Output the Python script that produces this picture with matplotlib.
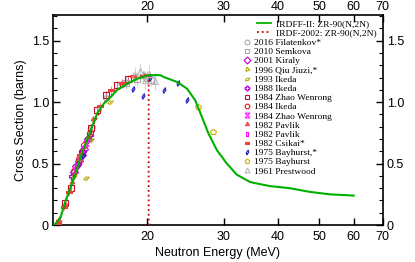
import numpy as np
import matplotlib
matplotlib.use("Agg")
import matplotlib.pyplot as plt
from matplotlib.ticker import FixedLocator, FixedFormatter, MultipleLocator, NullLocator
from matplotlib.lines import Line2D

#------------------------------------------------------------------------------
# Data
#------------------------------------------------------------------------------

# IRDFF-II evaluated curve (MeV, barns)
e_irdff = [12.1, 12.27, 12.6, 12.94, 13.29, 13.64, 14.01, 14.39, 14.77, 15.31,
           15.86, 16.43, 17.02, 17.95, 18.93, 20.13, 21.42, 21.8, 23.41, 24.69,
           25.79, 26.73, 27.68, 28.95, 30.53, 32.19, 34.55, 36.43, 38.42, 42.71,
           47.49, 52.81, 60.0]
xs_irdff = [0.0, 0.01, 0.067, 0.2, 0.31, 0.42, 0.555, 0.664, 0.77, 0.91,
            0.99, 1.04, 1.10, 1.15, 1.19, 1.22, 1.22, 1.205, 1.165, 1.11,
            1.016, 0.88, 0.745, 0.61, 0.50, 0.41, 0.35, 0.333, 0.317, 0.30,
            0.27, 0.25, 0.24]

# IRDF-2002 curve (ends at 20 MeV)
e_irdf = [12.1, 12.6, 13.29, 14.01, 14.77, 15.86, 17.02, 18.93, 20.13, 20.13]
xs_irdf = [0.0, 0.067, 0.31, 0.555, 0.77, 0.99, 1.10, 1.19, 1.22, 0.0]

# experimental data sets: label, energies, cross sections, errors
exfor = [
    ("2016 Filatenkov*", [13.4, 13.7, 14.1, 14.5, 14.9, 16.0, 17.5, 19.6],
     [0.39, 0.47, 0.58, 0.70, 0.80, 1.03, 1.15, 1.21], 0.04),
    ("2010 Semkova", [17.8, 18.9, 19.9, 20.4],
     [1.16, 1.19, 1.20, 1.18], 0.05),
    ("2001 Kiraly", [13.5, 13.7, 13.9, 14.1, 14.3, 14.6],
     [0.43, 0.48, 0.52, 0.57, 0.62, 0.70], 0.02),
    ("1996 Qiu Jiuzi,*", [13.5, 13.9, 14.6],
     [0.41, 0.52, 0.72], 0.02),
    ("1993 Ikeda", [14.4, 14.8, 16.4],
     [0.38, 0.69, 1.00], 0.02),
    ("1988 Ikeda", [13.4, 13.8, 14.2, 14.7],
     [0.40, 0.50, 0.60, 0.73], 0.02),
    ("1984 Zhao Wenrong", [12.9, 13.3, 14.1, 14.8, 15.3, 16.0, 17.0, 18.0],
     [0.18, 0.30, 0.59, 0.79, 0.94, 1.06, 1.14, 1.19], 0.03),
    ("1984 Ikeda", [13.5, 13.9, 14.3, 14.7],
     [0.44, 0.54, 0.65, 0.75], 0.02),
    ("1984 Zhao Wenrong", [13.6, 14.0, 14.4],
     [0.45, 0.55, 0.67], 0.02),
    ("1982 Pavlik", [12.5, 12.9, 13.4, 14.0, 15.0],
     [0.04, 0.17, 0.35, 0.57, 0.86], 0.02),
    ("1982 Pavlik", [13.7, 14.2, 14.6],
     [0.48, 0.62, 0.71], 0.02),
    ("1982 Csikai*", [12.4, 12.8, 13.2, 14.0, 15.5, 16.5, 17.5, 18.5, 19.5],
     [0.02, 0.15, 0.27, 0.57, 0.97, 1.10, 1.16, 1.21, 1.22], 0.03),
    ("1975 Bayhurst,*", [14.2, 18.5, 19.5, 20.3, 21.9, 23.5, 24.7],
     [0.56, 1.11, 1.05, 1.20, 1.10, 1.16, 1.02], 0.01),
    ("1975 Bayhurst", [26.2, 28.3],
     [0.957, 0.76], 0.0),
    ("1961 Prestwood", [18.7, 19.2, 19.7, 20.2, 20.8],
     [1.22, 1.25, 1.18, 1.23, 1.17], 0.07),
]

# marker styles per data set
para = [(-1, -0.5), (0.2, -0.5), (1, 0.5), (-0.2, 0.5), (-1, -0.5)]
bowtie = [(-1, 1), (1, 1), (-1, -1), (1, -1), (-1, 1)]
tallrect = [(-0.4, -1), (0.4, -1), (0.4, 1), (-0.4, 1), (-0.4, -1)]
flatrect = [(-1, -0.35), (1, -0.35), (1, 0.35), (-1, 0.35), (-1, -0.35)]
slimdiam = [(-0.3, -1), (0.5, 0.1), (0.3, 1), (-0.5, -0.1), (-0.3, -1)]
estilos = [
    ("o", "#a8a8a8", False),
    ("s", "#a8a8a8", False),
    ("D", "#c000c0", False),
    ((3, 0, 15), "#b0a800", False),
    (para, "#b8b020", False),
    ("P", "#b000d0", False),
    ("s", "#c01030", False),
    ("8", "#d82020", False),
    (bowtie, "#ff20ff", False),
    ((3, 0, 0), "#f05050", True),
    (tallrect, "#ff00ff", False),
    (flatrect, "#f04040", True),
    (slimdiam, "#2020c0", False),
    ("p", "#c8b400", False),
    ("^", "#b8b8b8", False),
]

#------------------------------------------------------------------------------
# Plot
#------------------------------------------------------------------------------

plt.rcParams['font.family'] = ['Liberation Sans', 'DejaVu Sans']
fig = plt.figure(figsize=(4.15, 2.62), dpi=100)
ax = fig.add_axes([0.128, 0.141, 0.794, 0.802])

for (label, e, xs, err), (mk, col, filled) in zip(exfor, estilos):
    ax.errorbar(e, xs, yerr=err if err > 0 else None, fmt='none',
                ecolor=col, elinewidth=0.8, alpha=0.6, zorder=2)
    ax.plot(e, xs, linestyle='none', marker=mk, markersize=4,
            markeredgecolor=col, markeredgewidth=0.8,
            markerfacecolor=col if filled else 'none', zorder=3)

ax.plot(e_irdf, xs_irdf, color='#d00000', linestyle=':', linewidth=1.3, zorder=4)
ax.plot(e_irdff, xs_irdff, color='#00b000', linewidth=1.5, zorder=5)

ax.set_xscale('log')
ax.set_xlim(12.1, 70)
ax.set_ylim(0, 1.71)

xt = [20, 30, 40, 50, 60, 70]
ax.xaxis.set_major_locator(FixedLocator(xt))
ax.xaxis.set_major_formatter(FixedFormatter([str(v) for v in xt]))
ax.xaxis.set_minor_locator(NullLocator())
ax.yaxis.set_major_locator(FixedLocator([0, 0.5, 1.0, 1.5]))
ax.yaxis.set_major_formatter(FixedFormatter(['0', '0.5', '1.0', '1.5']))
ax.yaxis.set_minor_locator(MultipleLocator(0.1))

ax.tick_params(which='both', direction='in', top=True, right=True,
               labeltop=False, labelright=True, labelsize=9)
ax.tick_params(axis='x', pad=4)
ax.tick_params(axis='y', pad=3)
ax.tick_params(which='major', length=5, width=1)
ax.tick_params(which='minor', length=3, width=0.8)
for s in ax.spines.values():
    s.set_linewidth(1.2)

# etiquetas del eje superior
sec = ax.secondary_xaxis('top')
sec.xaxis.set_major_locator(FixedLocator(xt))
sec.xaxis.set_major_formatter(FixedFormatter([str(v) for v in xt]))
sec.xaxis.set_minor_locator(NullLocator())
sec.tick_params(length=0, pad=1.5, labelsize=9)
sec.spines['top'].set_visible(False)

ax.set_xlabel('Neutron Energy (MeV)', fontsize=9, labelpad=3)
ax.set_ylabel('Cross Section (barns)', fontsize=9, labelpad=3)

# leyenda de curvas
h_lin = [Line2D([], [], color='#00b000', linewidth=1.3),
         Line2D([], [], color='#d00000', linestyle=':', linewidth=1.3)]
leg1 = fig.legend(h_lin, ['IRDFF-II: ZR-90(N,2N)', 'IRDF-2002: ZR-90(N,2N)'],
                  loc='upper left', bbox_to_anchor=(0.619, 0.926), frameon=False,
                  prop={'family': 'Liberation Serif', 'size': 6.8},
                  handlelength=1.5, handletextpad=0.55, labelspacing=0.06,
                  borderpad=0, borderaxespad=0)

# leyenda de datos experimentales
h_exp = []
for (label, e, xs, err), (mk, col, filled) in zip(exfor, estilos):
    h_exp.append(Line2D([], [], linestyle='none', marker=mk, markersize=3.5,
                        markeredgecolor=col, markeredgewidth=0.8,
                        markerfacecolor=col if filled else 'none'))
leg2 = fig.legend(h_exp, [x[0] for x in exfor],
                  loc='upper left', bbox_to_anchor=(0.586, 0.853), frameon=False,
                  prop={'family': 'Liberation Serif', 'size': 6.8},
                  handlelength=0.8, handletextpad=0.37, labelspacing=0.06,
                  borderpad=0, borderaxespad=0)

fig.savefig('out.png', dpi=100)
